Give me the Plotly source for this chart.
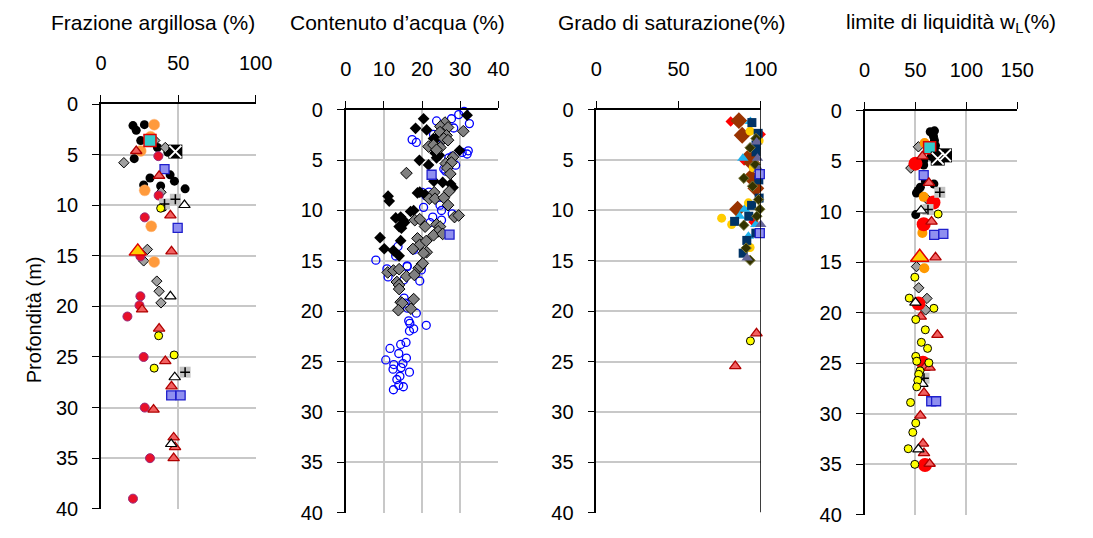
import plotly.graph_objects as go

W, H = 1093, 538

# ---------------- Panel 1: Frazione argillosa (%) ----------------
FA_black_x = [20.7, 28.1, 22.8, 25.7, 21.5, 36.5, 43.3, 31.7, 44.7, 47.5, 38.6, 27.6, 54.4, 40.1]
FA_black_y = [2.13, 2.04, 2.60, 3.61, 5.40, 4.30, 4.77, 7.31, 7.00, 7.62, 8.10, 8.00, 8.38, 10.2]
FA_orange_x = [34.4, 32.1, 25.7, 28.3, 32.5, 34.4]
FA_orange_y = [2.04, 3.23, 4.64, 8.53, 12.08, 15.6]
FA_red_x = [37.1, 37.3, 28.3, 25.5, 25.5, 24.9, 17.1, 27.6, 28.3, 31.7, 20.7]
FA_red_y = [5.15, 9.04, 11.2, 15.06, 19.0, 19.9, 21.0, 25.0, 30.0, 35.0, 39.0]
FA_gdiam_x = [14.8, 41.6, 34.8, 38.8, 30.0, 27.6, 36.1, 37.6, 38.8]
FA_gdiam_y = [5.8, 4.3, 3.6, 8.72, 14.37, 15.5, 17.5, 18.5, 19.65]
FA_cyan_x = [31.7]
FA_cyan_y = [3.6]
FA_xbox_x = [48.1]
FA_xbox_y = [4.7]
FA_bsq_x = [41.1, 49.6, 45.4, 51.5]
FA_bsq_y = [6.43, 12.24, 28.8, 28.8]
FA_rtri_x = [22.8, 37.6, 44.9, 45.6, 26.6, 37.6, 41.6, 45.6, 34.0, 47.0, 47.9, 47.0]
FA_rtri_y = [4.64, 7.09, 11.0, 14.56, 20.3, 22.2, 25.4, 27.9, 30.2, 32.95, 33.9, 35.0]
FA_ytri_x = [23.8]
FA_ytri_y = [14.56]
FA_plus_x = [41.1, 48.1, 54.4]
FA_plus_y = [9.88, 9.41, 26.5]
FA_wtri_x = [54.0, 44.9, 47.7, 45.4]
FA_wtri_y = [9.98, 19.0, 27.0, 33.6]
FA_ycirc_x = [38.6, 37.3, 47.3, 34.4]
FA_ycirc_y = [10.3, 22.9, 24.8, 26.1]

# ---------------- Panel 2: Contenuto d'acqua (%) ----------------
WC_open_x = [31.0, 29.6, 32.4, 27.7, 23.8, 28.3, 23.0, 25.5, 17.4, 18.5, 24.5, 32.1, 30.5, 31.8,
             27.9, 27.0, 28.8, 25.7, 26.2, 20.0, 21.8, 21.0, 20.4, 24.7, 25.1, 27.9, 22.8, 22.1,
             25.1, 13.7, 17.8, 13.1, 7.9, 16.1,
             10.8, 11.1, 16.1, 19.8, 15.2, 19.4, 15.3, 15.6, 16.2, 18.5, 16.5, 16.8, 17.8, 16.7,
             21.1, 15.8, 14.4, 11.6, 13.9, 15.9, 10.5, 12.6, 15.0, 12.4, 14.5, 16.7, 14.2, 13.4,
             13.9, 15.1, 12.5]
WC_open_y = [0.16, 0.48, 1.37, 0.89, 1.11, 1.81, 2.45, 2.54, 2.96, 3.24, 3.5, 4.07, 4.23, 4.39,
             4.61, 4.77, 5.50, 5.88, 6.10, 8.20, 8.17, 8.52, 9.69, 9.47, 10.0, 10.33, 10.65, 11.2,
             10.96, 13.57, 13.92, 14.52, 14.93, 15.57,
             15.8, 16.6, 15.5, 15.9, 16.9, 17.0, 18.7, 19.2, 19.7, 20.2, 20.96, 21.2, 21.75, 21.97,
             21.4, 23.1, 23.3, 23.7, 24.2, 24.65, 24.84, 25.3, 25.2, 25.76, 25.6, 26.05, 26.46, 26.78,
             27.36, 27.5, 27.8]
WC_black_x = [20.4, 18.3, 21.2, 31.8, 23.0, 23.8, 24.1, 23.4, 24.5, 23.8, 29.8, 19.3, 21.7, 23.1,
              25.4, 27.5, 28.1, 18.8, 19.4, 20.8, 11.1, 11.4, 17.0, 17.8, 13.1, 14.4, 15.1, 15.4,
              14.0, 14.6, 9.0, 14.4, 10.1, 12.5, 14.0]
WC_black_y = [0.89, 1.84, 2.0, 0.54, 2.86, 2.8, 3.75, 4.29, 4.51, 4.77, 4.04, 5.02, 5.47, 7.09,
              7.21, 7.37, 7.72, 8.26, 8.17, 8.42, 8.58, 9.06, 10.1, 10.0, 10.74, 10.65, 10.96, 11.2,
              11.6, 11.76, 12.7, 13.0, 13.8, 13.98, 14.5]
WC_gray_x = [26.0, 24.8, 26.8, 30.8, 24.7, 26.4, 25.7, 26.8, 21.7, 23.0, 24.8, 23.8, 28.1, 26.2,
             27.7, 26.6, 27.4, 15.9, 23.2, 27.1, 21.9, 23.4, 25.7, 26.8, 28.5, 29.6, 18.1, 19.4,
             20.8, 23.8, 24.7, 24.2, 23.0, 25.4, 18.8, 19.4, 21.1, 17.6, 21.2, 20.4, 20.0, 19.1,
             19.5, 20.2, 11.0, 12.5, 14.0, 15.9, 18.0, 13.4, 13.96, 14.0, 17.8, 14.4, 14.8, 13.8, 17.1]
WC_gray_y = [1.27, 1.65, 1.75, 2.13, 2.22, 2.54, 2.86, 3.02, 3.65, 3.5, 3.75, 3.97, 4.70, 5.34,
             5.24, 5.78, 6.36, 6.29, 8.20, 8.10, 8.83, 8.83, 8.74, 9.47, 10.65, 10.49, 10.96, 10.87,
             11.6, 11.38, 11.6, 12.07, 12.46, 12.33, 12.77, 13.41, 13.03, 13.82, 14.14, 14.24, 15.3, 15.73,
             15.57, 15.25, 16.15, 15.96, 15.83, 16.53, 16.4, 17.1, 17.4, 17.8, 18.8, 19.1, 19.2, 19.9, 19.75]
WC_bsq_x = [22.5, 27.2]
WC_bsq_y = [6.45, 12.4]

# ---------------- Panel 3: Grado di saturazione (%) ----------------
SR_red_x = [81.7, 100.0, 89.9, 95.6]
SR_red_y = [1.17, 2.44, 5.03, 11.14]
SR_brown_x = [86.7, 88.7, 94.0, 94.6, 94.0, 97.0, 85.9]
SR_brown_y = [1.08, 2.53, 4.49, 5.28, 6.71, 7.8, 9.87]
SR_cyan_x = [93.7, 89.1, 90.1, 87.1, 97.0, 92.5]
SR_cyan_y = [1.17, 4.81, 9.87, 10.57, 11.39, 12.56]
SR_navy_x = [94.6, 98.4, 97.1, 97.1, 98.8, 99.0, 94.4, 84.1, 92.7, 97.0, 91.5, 89.3]
SR_navy_y = [1.27, 2.34, 3.48, 4.18, 6.96, 8.77, 9.49, 11.08, 10.57, 12.25, 12.97, 14.24]
SR_yellow_x = [93.5, 99.0, 95.4, 92.5, 76.2, 82.3, 93.5]
SR_yellow_y = [2.12, 3.07, 5.76, 9.24, 10.76, 11.39, 13.67]
SR_olive_x = [97.1, 93.5, 96.6, 89.7, 95.0, 98.6, 99.4, 97.6, 89.7, 91.1, 93.5]
SR_olive_y = [2.85, 3.77, 5.44, 6.80, 7.59, 8.92, 9.87, 10.57, 11.46, 13.73, 14.94]
SR_purple_x = [97.5, 98.0, 98.8, 100.0, 91.7]
SR_purple_y = [3.2, 4.81, 5.92, 11.39, 14.72]
SR_bsq_x = [99.4, 99.4]
SR_bsq_y = [6.39, 12.25]
SR_rtri_x = [97.4, 84.5]
SR_rtri_y = [22.2, 25.45]
SR_ycirc_x = [93.7]
SR_ycirc_y = [22.95]
SR_limit = [100, 100]
SR_limit_depth = [0, 40]

# ---------------- Panel 4: limite di liquidita wL (%) ----------------
LL_black_x = [64.5, 68.7, 67.7, 68.7, 69.7, 71.9, 76.8, 65.5, 58.1, 58.1, 59.7, 68.1, 54.8, 52.6, 51.0, 50.3]
LL_black_y = [2.08, 1.99, 2.53, 2.94, 3.47, 4.10, 4.29, 4.52, 4.93, 5.37, 6.95, 7.26, 7.58, 7.89, 8.15, 10.29]
LL_orange_x = [59.0, 58.1, 56.8, 58.7]
LL_orange_y = [3.19, 8.53, 12.1, 15.6]
LL_red_x = [50.0, 67.7, 58.1, 52.9, 57.4, 59.4]
LL_red_y = [5.24, 9.09, 11.24, 19.1, 24.97, 35.1]
LL_gdiam_x = [52.9, 45.5, 61.6, 51.0, 53.2, 61.3, 60.0]
LL_gdiam_y = [3.57, 5.68, 8.78, 15.44, 17.54, 18.59, 19.73]
LL_cyan_x = [63.9]
LL_cyan_y = [3.66]
LL_xbox_x = [71.9, 79.0]
LL_xbox_y = [4.74, 4.42]
LL_bsq_x = [58.1, 68.4, 77.4, 65.5, 70.3]
LL_bsq_y = [6.38, 12.3, 12.2, 28.78, 28.78]
LL_rtri_x = [56.8, 63.2, 65.8, 69.7, 55.2, 71.6, 58.7, 63.9, 58.4, 54.8, 57.4, 58.4, 63.9]
LL_rtri_y = [4.52, 7.14, 10.99, 14.52, 20.4, 22.2, 25.48, 25.44, 27.95, 30.2, 32.97, 33.92, 34.97]
LL_ytri_x = [54.2]
LL_ytri_y = [14.52]
LL_plus_x = [73.9, 62.3, 58.4]
LL_plus_y = [8.08, 9.79, 26.49]
LL_wtri_x = [55.5, 50.0, 56.8, 52.9]
LL_wtri_y = [9.88, 19.0, 27.06, 33.54]
LL_ycirc_x = [72.3, 49.4, 43.9, 68.1, 50.3, 59.7, 55.8, 61.9, 50.3, 51.3, 63.2, 54.5, 53.2, 52.3,
              51.3, 45.2, 50.3, 47.4, 42.9, 49.4]
LL_ycirc_y = [10.23, 16.49, 18.56, 19.57, 20.68, 21.7, 22.94, 23.54, 24.33, 24.81, 24.97, 25.76, 26.11, 26.71,
              27.35, 28.9, 30.94, 31.86, 33.48, 35.03]

TITLES = ["Frazione argillosa (%)", "Contenuto d\u2019acqua (%)",
          "Grado di saturazione(%)", "limite di liquidit\u00e0 w<sub>L</sub>(%)"]
X_RANGES = [[0, 100], [0, 40], [0, 100], [0, 150]]
X_DTICK = [50, 10, 50, 50]
Y_LABEL = "Profondit\u00e0 (m)"

FONT = "Arial, 'Liberation Sans', sans-serif"

# pixel boxes of the four plot areas: (left, right, top, bottom)
BOXES = [(97, 255, 97, 519), (347, 503, 103, 523), (603, 771, 103, 523), (877, 1033, 104, 525)]
TITLE_CX = [150, 400, 680, 965]

fig = go.Figure()


def add(ax, x, y, symbol, size, color, lcolor=None, lw=0.0, opacity=1.0):
    fig.add_trace(go.Scatter(
        x=x, y=y, mode="markers", xaxis="x" + ("" if ax == 1 else str(ax)),
        yaxis="y" + ("" if ax == 1 else str(ax)), cliponaxis=False, showlegend=False,
        marker=dict(symbol=symbol, size=size, color=color, opacity=opacity,
                    line=dict(color=lcolor if lcolor else color, width=lw))))


# colours
BLACK = "#000000"
ORANGE = "#FF9A3C"
CRIMSON = "#E8102A"
RED = "#FF0000"
GRAYD = "#A0A0A0"
CYAN = "#33CCCC"
BSQ = "#8F8FF0"
BSQL = "#1F1FCC"
RTRI = "#F26060"
RTRIL = "#B00000"
YEL = "#FFFF00"

# ---- panel 1
add(1, FA_black_x, FA_black_y, "circle", 9, BLACK)
add(1, FA_gdiam_x, FA_gdiam_y, "diamond", 8, GRAYD, BLACK, 1)
add(1, FA_orange_x, FA_orange_y, "circle", 11, ORANGE, "#FFB070", 0.5)
add(1, FA_red_x, FA_red_y, "circle", 9, CRIMSON, "#9A2A7A", 1)
add(1, FA_cyan_x, FA_cyan_y, "square", 12, CYAN, "#E00000", 1.5)
add(1, FA_xbox_x, FA_xbox_y, "square", 14, BLACK)
add(1, FA_xbox_x, FA_xbox_y, "x-thin", 12, BLACK, "#FFFFFF", 2)
add(1, FA_bsq_x, FA_bsq_y, "square", 9, BSQ, BSQL, 1.3)
add(1, FA_rtri_x, FA_rtri_y, "triangle-up", 10, RTRI, RTRIL, 1.3)
add(1, FA_ytri_x, FA_ytri_y, "triangle-up", 15, "#FFCC00", "#E00000", 1.5)
add(1, FA_plus_x, FA_plus_y, "square", 11, "#C4C4C4")
add(1, FA_plus_x, FA_plus_y, "cross-thin", 7, BLACK, BLACK, 1.5)
add(1, FA_wtri_x, FA_wtri_y, "triangle-up", 10, "#FFFFFF", BLACK, 1.2)
add(1, FA_ycirc_x, FA_ycirc_y, "circle", 8, YEL, BLACK, 1)

# ---- panel 2
add(2, WC_open_x, WC_open_y, "circle-open", 8, "#0000FF", "#0000FF", 1.3)
add(2, WC_black_x, WC_black_y, "diamond", 9, BLACK)
add(2, WC_gray_x, WC_gray_y, "diamond", 9, "#808080", BLACK, 1)
add(2, WC_bsq_x, WC_bsq_y, "square", 9, BSQ, BSQL, 1.3)

# ---- panel 3
add(3, SR_red_x, SR_red_y, "diamond", 8, RED)
add(3, SR_brown_x, SR_brown_y, "diamond", 13, "#993300")
add(3, SR_cyan_x, SR_cyan_y, "triangle-up", 10, "#1EB4F0")
add(3, SR_yellow_x, SR_yellow_y, "circle", 9, "#FFCC00")
add(3, SR_navy_x, SR_navy_y, "square", 9, "#003366")
add(3, SR_olive_x, SR_olive_y, "diamond", 8, "#333300", "#77773A", 1)
add(3, SR_purple_x, SR_purple_y, "triangle-up", 10, "#666699")
add(3, SR_bsq_x, SR_bsq_y, "square", 9, BSQ, BSQL, 1.3)
add(3, SR_rtri_x, SR_rtri_y, "triangle-up", 10, RTRI, RTRIL, 1.3)
add(3, SR_ycirc_x, SR_ycirc_y, "circle", 8, YEL, BLACK, 1)
fig.add_trace(go.Scatter(x=SR_limit, y=SR_limit_depth, mode="lines", xaxis="x3", yaxis="y3",
                         line=dict(color="#000000", width=1.5), showlegend=False, cliponaxis=False))

# ---- panel 4
add(4, LL_black_x, LL_black_y, "circle", 9, BLACK)
add(4, LL_gdiam_x, LL_gdiam_y, "diamond", 8, GRAYD, BLACK, 1)
add(4, LL_orange_x, LL_orange_y, "circle", 10, "#FF9900")
add(4, LL_red_x, LL_red_y, "circle", 14, RED)
add(4, LL_cyan_x, LL_cyan_y, "square", 12, CYAN, "#E00000", 1.5)
add(4, LL_xbox_x, LL_xbox_y, "square", 14, BLACK)
add(4, LL_xbox_x, LL_xbox_y, "x-thin", 12, BLACK, "#FFFFFF", 2)
add(4, LL_bsq_x, LL_bsq_y, "square", 9, BSQ, BSQL, 1.3)
add(4, LL_rtri_x, LL_rtri_y, "triangle-up", 10, RTRI, RTRIL, 1.3)
add(4, LL_ytri_x, LL_ytri_y, "triangle-up", 16, "#FFCC00", "#E00000", 1.5)
add(4, LL_plus_x, LL_plus_y, "square", 11, "#C4C4C4")
add(4, LL_plus_x, LL_plus_y, "cross-thin", 7, BLACK, BLACK, 1.5)
add(4, LL_wtri_x, LL_wtri_y, "triangle-up", 10, "#FFFFFF", BLACK, 1.2)
add(4, LL_ycirc_x, LL_ycirc_y, "circle", 8, YEL, BLACK, 1)

layout = dict(width=W, height=H, margin=dict(l=0, r=0, t=0, b=0),
              paper_bgcolor="white", plot_bgcolor="white", showlegend=False,
              font=dict(family=FONT, size=19, color="#000000"))
annotations = []
for i, (l, r, t, b) in enumerate(BOXES):
    n = "" if i == 0 else str(i + 1)
    layout["xaxis" + n] = dict(
        domain=[l / W, r / W], range=X_RANGES[i], dtick=X_DTICK[i], tick0=0, side="top",
        anchor="y" + n, showgrid=(i != 2), gridcolor="#C8C8C8", gridwidth=1.5,
        showline=True, linecolor="#000000", linewidth=1.5, zeroline=False,
        ticks="outside", ticklen=7, tickwidth=1.3, tickcolor="#000000",
        ticklabelstandoff=17, tickfont=dict(size=20), fixedrange=True)
    layout["yaxis" + n] = dict(
        domain=[1 - b / H, 1 - t / H], range=[40, 0], dtick=5, tick0=0,
        anchor="x" + n, showgrid=True, gridcolor="#C8C8C8", gridwidth=1.5,
        showline=True, linecolor="#000000", linewidth=1.5, zeroline=False,
        ticks="outside", ticklen=7, tickwidth=1.3, tickcolor="#000000",
        ticklabelstandoff=10, tickfont=dict(size=20), fixedrange=True)
    annotations.append(dict(text=TITLES[i], x=TITLE_CX[i] / W, y=1 - 12 / H,
                            xref="paper", yref="paper", showarrow=False,
                            xanchor="center", yanchor="middle", font=dict(size=21)))
annotations.append(dict(text=Y_LABEL, x=28 / W, y=1 - 322 / H, xref="paper", yref="paper",
                        showarrow=False, textangle=-90, xanchor="center", yanchor="middle",
                        font=dict(size=20)))
layout["annotations"] = annotations
fig.update_layout(**layout)

fig.write_html("out.html")
